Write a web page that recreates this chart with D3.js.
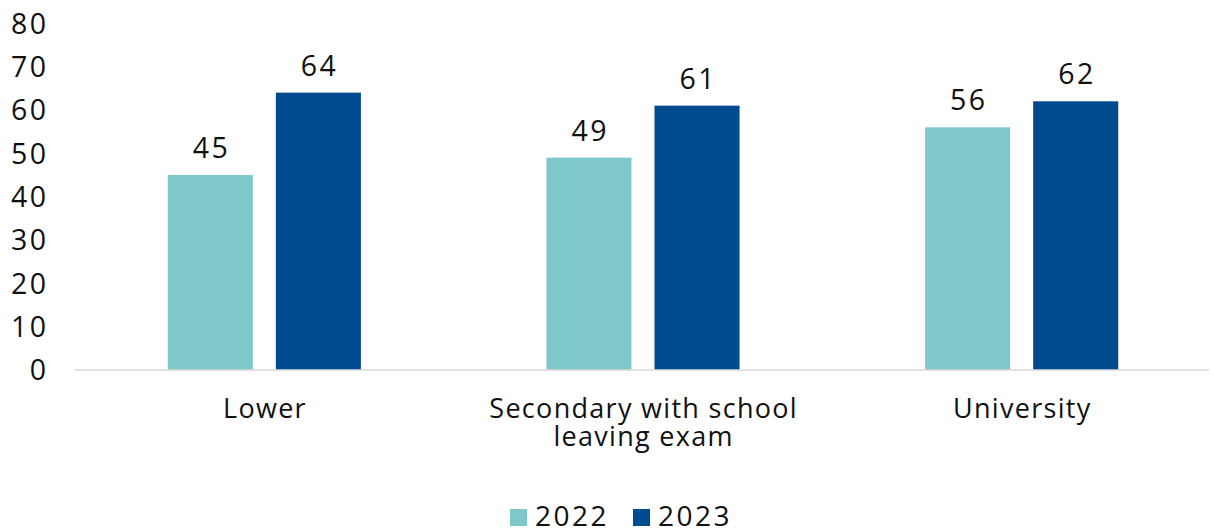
<!DOCTYPE html>
<html>
<head>
<meta charset="utf-8">
<script src="https://cdn.jsdelivr.net/npm/d3@7"></script>
<style>
  html, body { margin: 0; padding: 0; background: #fff; }
  svg text { font-family: "Open Sans", Lato, sans-serif; fill: #111; }
</style>
</head>
<body>
<svg id="chart" width="1214" height="532"></svg>
<script>
// Education level categories (labels may wrap onto two lines)
const categories = ["Lower", "Secondary with school leaving exam", "University"];
const categoryLines = [["Lower"], ["Secondary with school", "leaving exam"], ["University"]];
const series = ["2022", "2023"];
const values2022 = [45, 49, 56];
const values2023 = [64, 61, 62];
const yTicks = [0, 10, 20, 30, 40, 50, 60, 70, 80];
const colors = ["#7fc8c9", "#004a8f"];

const svg = d3.select("#chart");
const plotLeft = 75, plotRight = 1211, plotTop = 23.3, plotBottom = 370;
const fontFamily = "'Open Sans', Lato, sans-serif";
const numSpacing = 2.5;

const y = d3.scaleLinear().domain([0, 80]).range([plotBottom, plotTop]);
const x0 = d3.scaleBand().domain(categories).range([plotLeft, plotRight])
  .paddingInner(0.49).paddingOuter(0.245);
const x1 = d3.scaleBand().domain(series).range([0, x0.bandwidth()])
  .paddingInner(0.213);

// Y axis labels (no axis line, no ticks)
const yAxis = d3.axisLeft(y).tickValues(yTicks).tickSize(0).tickPadding(0);
const gy = svg.append("g").attr("transform", `translate(${46 + numSpacing},0)`).call(yAxis);
gy.select(".domain").remove();
gy.selectAll("text").attr("font-size", 28.5).attr("fill", "#111")
  .style("font-family", fontFamily).attr("dy", "0.35em")
  .attr("letter-spacing", numSpacing);

// Bars
const rows = categories.map((c, i) => ({ cat: c, vals: [values2022[i], values2023[i]] }));
const groups = svg.append("g").selectAll("g").data(rows).join("g")
  .attr("transform", d => `translate(${x0(d.cat)},0)`);

groups.selectAll("rect").data(d => d.vals.map((v, j) => ({ s: series[j], v, j })))
  .join("rect")
  .attr("x", d => x1(d.s))
  .attr("y", d => y(d.v))
  .attr("width", x1.bandwidth())
  .attr("height", d => y(0) - y(d.v))
  .attr("fill", d => colors[d.j]);

// Value labels
groups.selectAll("text.val").data(d => d.vals.map((v, j) => ({ s: series[j], v, j })))
  .join("text").attr("class", "val")
  .attr("x", d => x1(d.s) + x1.bandwidth() / 2 + numSpacing / 2)
  .attr("y", d => y(d.v) - 17)
  .attr("text-anchor", "middle")
  .attr("font-size", 28.5)
  .attr("letter-spacing", numSpacing)
  .text(d => d.v);

// Baseline
svg.append("line")
  .attr("x1", plotLeft).attr("x2", plotRight - 2)
  .attr("y1", y(0)).attr("y2", y(0))
  .attr("stroke", "#d9d9d9").attr("stroke-width", 1.5);

// Category labels
const catSpacing = 1.3;
const cl = svg.append("g").selectAll("text").data(categories).join("text")
  .attr("x", d => x0(d) + x0.bandwidth() / 2 + catSpacing / 2)
  .attr("y", 418)
  .attr("text-anchor", "middle")
  .attr("font-size", 27)
  .attr("letter-spacing", catSpacing);
cl.selectAll("tspan").data((d, i) => categoryLines[i]).join("tspan")
  .attr("x", function () { return d3.select(this.parentNode).attr("x"); })
  .attr("dy", (d, i) => i === 0 ? 0 : 27.5)
  .text(d => d);

// Legend
const legend = svg.append("g").attr("transform", "translate(510,509)");
const legendX = [0, 123];
series.forEach((s, i) => {
  const g = legend.append("g").attr("transform", `translate(${legendX[i]},0)`);
  g.append("rect").attr("width", 17).attr("height", 17).attr("fill", colors[i]);
  g.append("text").attr("x", 25).attr("y", 17).attr("font-size", 28)
    .attr("letter-spacing", numSpacing).text(s);
});
</script>
</body>
</html>
